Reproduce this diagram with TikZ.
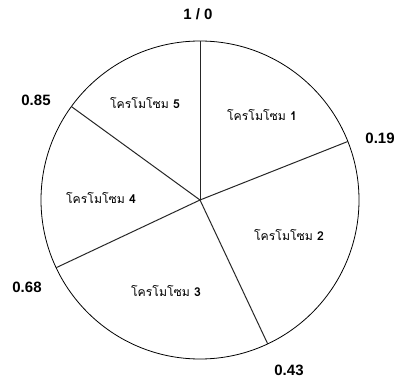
\documentclass[tikz,border=0pt]{standalone}
\usepackage{fontspec}
\setmainfont{Liberation Sans}
\newfontfamily\thaifont[Script=Thai]{Loma}

\begin{document}
\begin{tikzpicture}[x=1pt,y=1pt]

% Stili
\tikzset{
  numlabel/.style={font=\fontsize{15}{17}\selectfont\bfseries},
  chromo/.style={font=\thaifont\fontsize{12.2}{14}\selectfont},
  divider/.style={line width=1pt, black!85}
}

\useasboundingbox (0,0) rectangle (403,380);

% Raggio della ruota
\def\r{159pt}

% Cerchio
\coordinate (c) at (200,180);
\draw[line width=0.8pt] (c) circle (\r);

% Punti di taglio (cumulativo: 0, 0.19, 0.43, 0.68, 0.85)
\path (c) ++(90:\r) coordinate (p0);
\path (c) ++(21.6:\r) coordinate (p1);
\path (c) ++(-64.8:\r) coordinate (p2);
\path (c) ++(-154.8:\r) coordinate (p3);
\path (c) ++(144:\r) coordinate (p4);

% Settori
\draw[divider] (c) -- (p0);
\draw[divider] (c) -- (p1);
\draw[divider] (c) -- (p2);
\draw[divider] (c) -- (p3);
\draw[divider] (c) -- (p4);

% Valori cumulativi
\node[numlabel] (v0) at (198,366) {1 / 0};
\node[numlabel] (v1) at (380,242) {0.19};
\node[numlabel] (v2) at (289,10) {0.43};
\node[numlabel] (v3) at (27,93) {0.68};
\node[numlabel] (v4) at (36,280) {0.85};

% Cromosomi
\node[chromo] (k1) at (262,265) {โครโมโซม \textbf{1}};
\node[chromo] (k2) at (289,145) {โครโมโซม \textbf{2}};
\node[chromo] (k3) at (166,89) {โครโมโซม \textbf{3}};
\node[chromo] (k4) at (101,182) {โครโมโซม \textbf{4}};
\node[chromo] (k5) at (145,277) {โครโมโซม \textbf{5}};

\end{tikzpicture}
\end{document}
